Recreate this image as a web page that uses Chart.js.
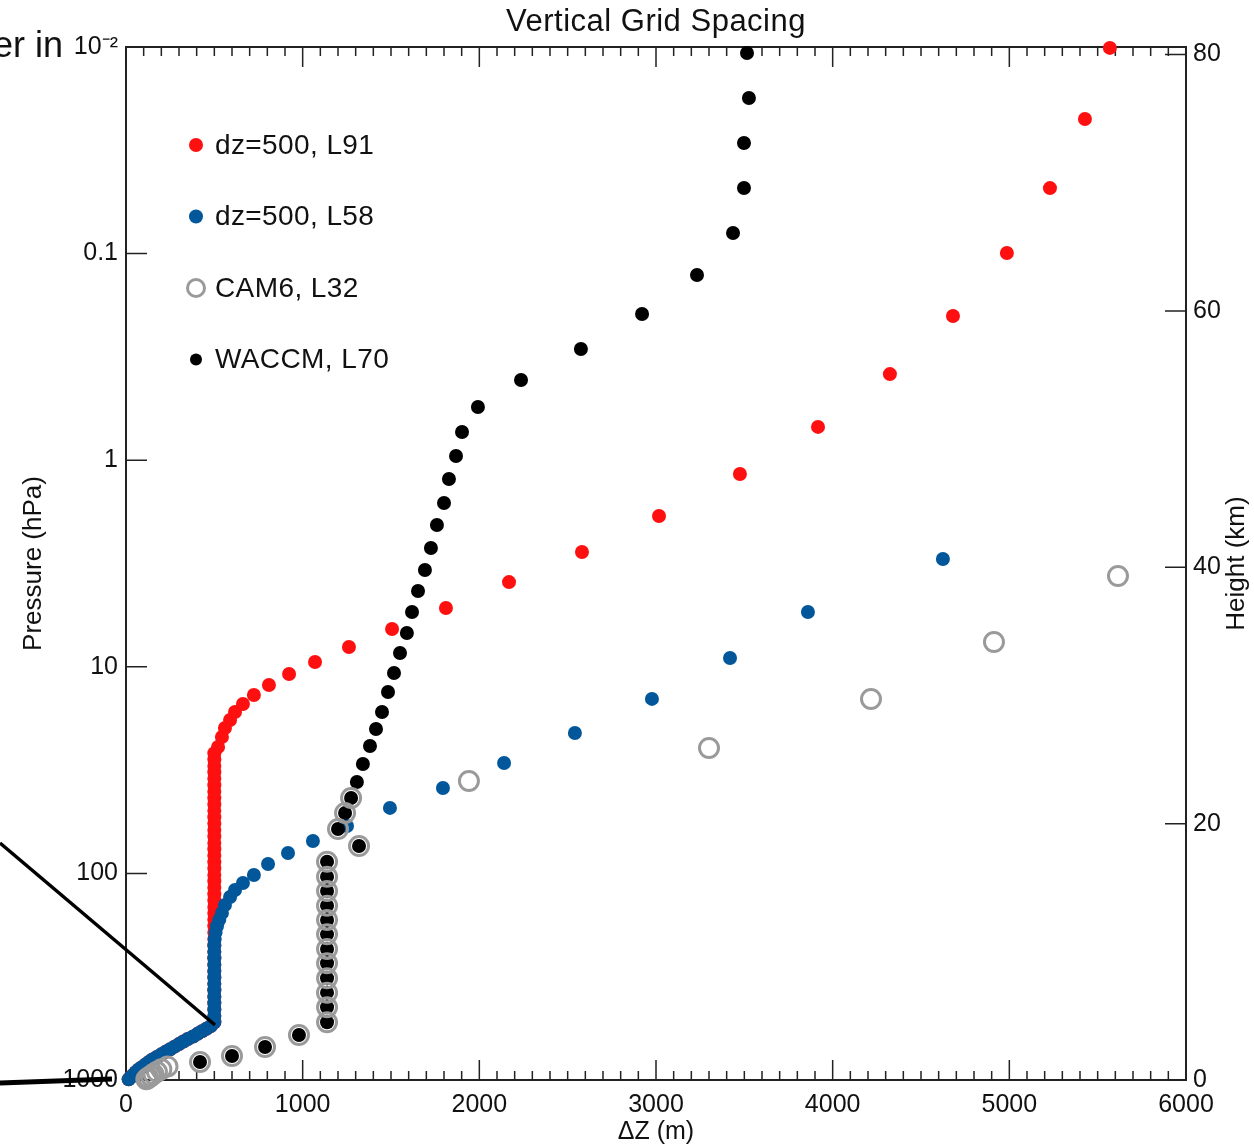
<!DOCTYPE html>
<html>
<head>
<meta charset="utf-8">
<title>Vertical Grid Spacing</title>
<script src="https://cdn.jsdelivr.net/npm/chart.js@4.4.1/dist/chart.umd.min.js"></script>
<style>
  html, body { margin: 0; padding: 0; background: #ffffff; }
  #wrap { width: 1254px; height: 1147px; }
</style>
</head>
<body>
<div id="wrap"><canvas id="grid-chart" width="1254" height="1147"></canvas></div>
<script>
// axis ticks
const xTickValues = [0, 1000, 2000, 3000, 4000, 5000, 6000];
const pTickValues = [0.01, 0.1, 1, 10, 100, 1000];
const pTickLabels = ['10\u207B\u00B2', '0.1', '1', '10', '100', '1000'];
const hTickValues = [0, 20, 40, 60, 80];

// lowest levels, shared by the two dz=500 grids (bottom to top)
const lowDz = [15, 25, 40, 55, 70, 90, 110, 130, 150, 175, 200, 225, 250, 275, 300, 325, 350, 380, 405, 430, 455, 480];
const lowP = [992.9, 971.8, 944.5, 917.9, 892.0, 866.9, 842.5, 818.7, 795.7, 773.3, 751.5, 730.3, 709.7, 689.7, 670.3, 651.4, 633.1, 615.3, 597.9, 581.1, 564.7, 548.8];

// dz=500, L91 : constant 500 m column, then stretched
const l91ColDz = [500, 500, 500, 500, 500, 500, 500, 500, 500, 500, 500, 500, 500, 500, 500, 500, 500, 500, 500, 500, 500, 500,
                  500, 500, 500, 500, 500, 500, 500, 500, 500, 500, 500, 500, 500, 500, 500, 500, 500, 500, 500, 500, 500];
const l91ColP = [525.8, 489.5, 455.8, 424.4, 395.1, 367.9, 342.5, 318.9, 296.9, 276.5, 257.4, 239.7, 223.1, 207.8, 193.4, 180.1,
                 167.7, 156.1, 145.4, 135.3, 126.0, 117.3, 109.2, 101.7, 94.7, 88.2, 82.1, 76.4, 71.2, 66.3, 61.7, 57.4, 53.5,
                 49.8, 46.4, 43.2, 40.2, 37.4, 34.8, 32.4, 30.2, 28.1, 26.2];
const l91TopDz = [521, 543, 560, 589, 617, 662, 724, 809, 923, 1070, 1262, 1506, 1811, 2168, 2581, 3017, 3475, 3917, 4324, 4681, 4986, 5230, 5428, 5569];
const l91TopP = [24.44, 21.88, 19.78, 18.09, 16.56, 15.14, 13.69, 12.25, 10.84, 9.48, 8.02, 6.56, 5.19, 3.89, 2.78, 1.862, 1.167, 0.690, 0.383, 0.2004, 0.0993, 0.0482, 0.0223, 0.0101];

// dz=500, L58
const l58ColDz = [500, 500, 500, 500, 500, 500, 500, 500, 500, 500, 500, 500, 500, 502, 507, 515, 528];
const l58ColP = [525.8, 489.5, 455.8, 424.4, 395.1, 367.9, 342.5, 318.9, 296.9, 276.5, 257.4, 239.7, 223.1, 207.8, 193.4, 180.1, 167.7];
const l58TopDz = [543, 560, 589, 617, 662, 724, 804, 917, 1058, 1251, 1494, 1794, 2140, 2541, 2977, 3419, 3860, 4624];
const l58TopP = [155.5, 142.2, 130.1, 120.3, 111.3, 101.8, 90.0, 79.6, 69.7, 59.0, 48.2, 38.6, 29.2, 20.9, 14.3, 9.07, 5.43, 3.01];

// CAM6, L32
const l32Dz = [115, 125, 140, 155, 175, 200, 235, 419, 600, 787, 979,
               1138, 1138, 1138, 1138, 1138, 1138, 1138, 1138, 1138, 1138, 1138, 1138,
               1319, 1200, 1240, 1274, 1941, 3300, 4217, 4913, 5615];
const l32P = [992.6, 976.3, 957.5, 936.2, 912.6, 887.0, 859.5, 818.3, 765.2, 692.2, 605.6,
              525.7, 444.7, 377.8, 321.9, 272.4, 232.2, 197.2, 168.1, 143.3, 121.7, 103.8, 87.8,
              73.71, 60.96, 51.01, 43.15, 35.70, 24.72, 14.32, 7.586, 3.635];

// WACCM, L70
const l70Dz = [419, 600, 787, 979,
               1138, 1138, 1138, 1138, 1138, 1138, 1138, 1138, 1138, 1138, 1138, 1138,
               1319, 1200, 1240, 1274, 1307, 1341, 1381, 1415, 1449, 1483, 1517, 1551, 1590, 1619, 1653, 1692,
               1726, 1760, 1800, 1828, 1868, 1902, 1992, 2236, 2575, 2921, 3232, 3436, 3498, 3498, 3526, 3515];
const l70P = [818.3, 765.2, 692.2, 605.6,
              525.7, 444.7, 377.8, 321.9, 272.4, 232.2, 197.2, 168.1, 143.3, 121.7, 103.8, 87.8,
              73.71, 60.96, 51.01, 43.15, 36.11, 29.54, 24.16, 20.00, 16.55, 13.24, 10.72, 8.574, 6.860, 5.430, 4.297, 3.400,
              2.661, 2.058, 1.611, 1.233, 0.9543, 0.7305, 0.5527, 0.4090, 0.2895, 0.1961, 0.1269, 0.0795, 0.04815, 0.02915, 0.01766, 0.01069];

const FONT = '"Liberation Sans", Arial, Helvetica, sans-serif';

function toPoints(dz, p) {
    return dz.map((d, i) => ({ x: d, y: p[i] }));
}

// extra drawing: inward tick marks, title, right title, legend, slide leftovers
const decoPlugin = {
    id: 'deco',
    beforeDatasetsDraw(chart) {
        const { ctx, chartArea: a, scales } = chart;
        ctx.save();
        ctx.strokeStyle = '#222';
        ctx.lineWidth = 1.5;
        ctx.beginPath();
        for (let v = 0; v <= 6000; v += 100) {
            const px = scales.x.getPixelForValue(v);
            const len = v % 1000 === 0 ? 20 : 9;
            ctx.moveTo(px, a.bottom); ctx.lineTo(px, a.bottom - len);
            ctx.moveTo(px, a.top); ctx.lineTo(px, a.top + len);
        }
        pTickValues.forEach(v => {
            const py = scales.y.getPixelForValue(v);
            ctx.moveTo(a.left, py); ctx.lineTo(a.left + 21, py);
        });
        hTickValues.forEach(v => {
            const py = scales.yH.getPixelForValue(v);
            ctx.moveTo(a.right, py); ctx.lineTo(a.right - 21, py);
        });
        ctx.stroke();
        ctx.restore();
    },
    afterDraw(chart) {
        const { ctx, chartArea: a } = chart;
        ctx.save();
        ctx.fillStyle = '#111';

        // title
        ctx.font = '31px ' + FONT;
        ctx.letterSpacing = '0.5px';
        ctx.textAlign = 'center';
        ctx.textBaseline = 'middle';
        ctx.fillText('Vertical Grid Spacing', (a.left + a.right) / 2, 22);

        // legend
        ctx.font = '28px ' + FONT;
        ctx.letterSpacing = '0.4px';
        ctx.textAlign = 'left';
        chart.data.datasets.forEach((ds, i) => {
            const y = 145 + i * 71.5;
            ctx.beginPath();
            ctx.arc(196, y, ds.legendRadius, 0, Math.PI * 2);
            if (ds.hollow) {
                ctx.lineWidth = ds.pointBorderWidth;
                ctx.strokeStyle = ds.pointBorderColor;
                ctx.stroke();
            } else {
                ctx.fillStyle = ds.pointBackgroundColor;
                ctx.fill();
            }
            ctx.fillStyle = '#111';
            ctx.fillText(ds.label, 215, y + 1);
        });

        // right axis title, reading upwards
        ctx.letterSpacing = '0px';
        ctx.font = '26px ' + FONT;
        ctx.translate(1237, (a.top + a.bottom) / 2);
        ctx.rotate(-Math.PI / 2);
        ctx.textAlign = 'center';
        ctx.fillText('Height (km)', 0, 0);
        ctx.setTransform(1, 0, 0, 1, 0, 0);

        // leftovers from the slide
        ctx.font = '36px ' + FONT;
        ctx.textAlign = 'right';
        ctx.textBaseline = 'alphabetic';
        ctx.fillText('er in', 63, 57);
        ctx.strokeStyle = '#000';
        ctx.lineCap = 'butt';
        ctx.lineWidth = 3.5;
        ctx.beginPath();
        ctx.moveTo(0, 843); ctx.lineTo(215, 1025);
        ctx.stroke();
        ctx.lineWidth = 5;
        ctx.beginPath();
        ctx.moveTo(0, 1083); ctx.lineTo(112, 1079);
        ctx.stroke();
        ctx.restore();
    }
};

const tickFont = { family: FONT, size: 25 };
const axisBorder = { display: true, color: '#222', width: 2 };

new Chart(document.getElementById('grid-chart').getContext('2d'), {
    type: 'scatter',
    data: {
        datasets: [
            {
                label: 'dz=500, L91',
                data: toPoints(lowDz.concat(l91ColDz, l91TopDz), lowP.concat(l91ColP, l91TopP)),
                pointBackgroundColor: '#ff1010',
                pointBorderWidth: 0,
                pointRadius: 7,
                legendRadius: 7,
                order: 3
            },
            {
                label: 'dz=500, L58',
                data: toPoints(lowDz.concat(l58ColDz, l58TopDz), lowP.concat(l58ColP, l58TopP)),
                pointBackgroundColor: '#02579a',
                pointBorderWidth: 0,
                pointRadius: 7,
                legendRadius: 7,
                order: 2
            },
            {
                label: 'CAM6, L32',
                data: toPoints(l32Dz, l32P),
                pointBackgroundColor: 'rgba(0,0,0,0)',
                pointBorderColor: '#9a9a9a',
                pointBorderWidth: 3,
                pointRadius: 9.5,
                legendRadius: 8.5,
                hollow: true,
                order: 0
            },
            {
                label: 'WACCM, L70',
                data: toPoints(l70Dz, l70P),
                pointBackgroundColor: '#000000',
                pointBorderWidth: 0,
                pointRadius: 7,
                legendRadius: 6,
                order: 1
            }
        ]
    },
    options: {
        responsive: false,
        animation: false,
        clip: false,
        layout: { padding: 0 },
        plugins: {
            legend: { display: false },
            tooltip: { enabled: false },
            title: { display: false }
        },
        scales: {
            x: {
                type: 'linear',
                position: 'bottom',
                min: 0,
                max: 6000,
                afterFit: s => { s.height = 67; },
                afterBuildTicks: s => { s.ticks = xTickValues.map(v => ({ value: v })); },
                grid: { display: false, drawTicks: false },
                border: axisBorder,
                ticks: { color: '#111', font: tickFont, padding: 10, maxRotation: 0, autoSkip: false, callback: v => String(v) },
                title: { display: true, text: '\u0394Z (m)', color: '#111', font: { family: FONT, size: 25 }, padding: { top: 0, bottom: 0 } }
            },
            xTop: {
                type: 'linear',
                position: 'top',
                min: 0,
                max: 6000,
                afterFit: s => { s.height = 47; },
                grid: { display: false, drawTicks: false },
                border: axisBorder,
                ticks: { display: false }
            },
            y: {
                type: 'logarithmic',
                position: 'left',
                reverse: true,
                min: 0.01,
                max: 1000,
                afterFit: s => { s.width = 126; },
                afterBuildTicks: s => { s.ticks = pTickValues.map(v => ({ value: v })); },
                grid: { display: false, drawTicks: false },
                border: axisBorder,
                ticks: {
                    color: '#111',
                    font: tickFont,
                    padding: 8,
                    autoSkip: false,
                    callback: v => pTickLabels[pTickValues.indexOf(v)]
                },
                title: { display: true, text: 'Pressure (hPa)', color: '#111', font: { family: FONT, size: 26 }, padding: { top: 18, bottom: 0 } }
            },
            yH: {
                type: 'linear',
                position: 'right',
                min: 0,
                max: 80.59,
                afterFit: s => { s.width = 68; },
                afterBuildTicks: s => { s.ticks = hTickValues.map(v => ({ value: v })); },
                grid: { display: false, drawTicks: false },
                border: axisBorder,
                ticks: { color: '#111', font: tickFont, padding: 7, autoSkip: false }
            }
        }
    },
    plugins: [decoPlugin]
});
</script>
</body>
</html>
